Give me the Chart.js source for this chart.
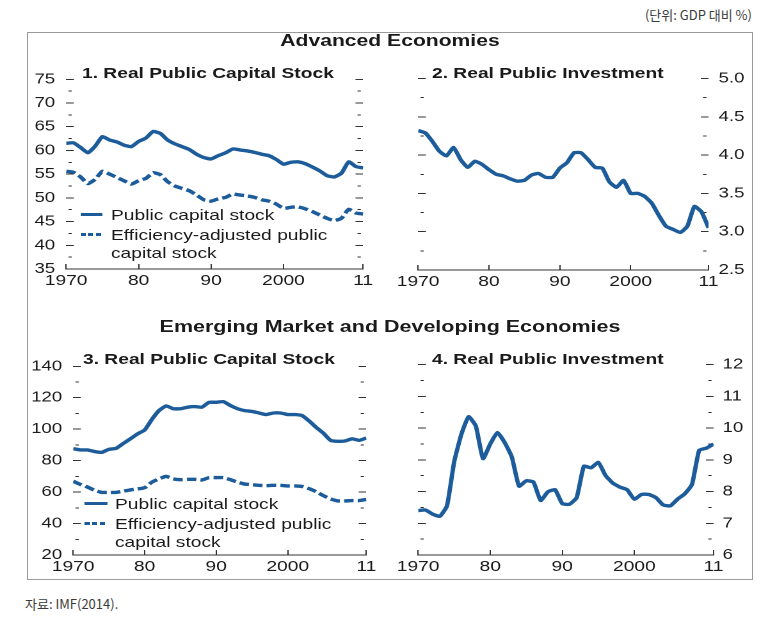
<!DOCTYPE html>
<html>
<head>
<meta charset="utf-8">
<script src="https://cdn.jsdelivr.net/npm/chart.js@4.4.1/dist/chart.umd.min.js"></script>
<style>
html,body{margin:0;padding:0;background:#fff;}
body{width:784px;height:630px;position:relative;overflow:hidden;font-family:"Liberation Sans",Arial,sans-serif;color:#1a1a1a;}
#fig{position:absolute;left:0;top:0;width:620px;height:630px;transform-origin:0 0;}
.t{position:absolute;white-space:nowrap;line-height:1;}
canvas{position:absolute;}
#box{position:absolute;left:27px;top:32px;width:726px;height:548px;border:1.5px solid #9a9a9a;box-sizing:border-box;}
.kr{position:absolute;white-space:nowrap;line-height:1;font-family:"Noto Sans CJK KR","Noto Sans",sans-serif;font-size:13px;color:#3a3a3a;}
</style>
</head>
<body>
<div id="box"></div>
<div class="kr" id="unit" style="right:32px;top:8px;">(단위: GDP 대비 %)</div>
<div class="kr" id="src" style="left:25px;top:597px;">자료: IMF(2014).</div>
<div id="fig">
  <canvas id="c1"></canvas>
  <canvas id="c2"></canvas>
  <canvas id="c3"></canvas>
  <canvas id="c4"></canvas>
</div>
<script>
// ---------- data ----------
const years = [1970,1971,1972,1973,1974,1975,1976,1977,1978,1979,
               1980,1981,1982,1983,1984,1985,1986,1987,1988,1989,
               1990,1991,1992,1993,1994,1995,1996,1997,1998,1999,
               2000,2001,2002,2003,2004,2005,2006,2007,2008,2009,
               2010,2011];
const xTickValues = [1970,1980,1990,2000,2011];
const xTickLabels = ['1970','80','90','2000','11'];

const advStock    = [61.5,61.6,60.6,59.5,60.9,62.9,62.2,61.8,61.1,60.8,
                     61.9,62.6,64.0,63.6,62.2,61.4,60.8,60.2,59.2,58.5,
                     58.2,58.9,59.5,60.3,60.1,59.9,59.6,59.2,58.9,58.1,
                     57.1,57.5,57.6,57.2,56.5,55.7,54.7,54.4,55.2,57.6,
                     56.6,56.3];
const advStockEff = [55.6,55.4,54.4,53.0,53.9,55.6,55.0,54.3,53.6,52.9,
                     53.6,54.1,55.3,54.9,53.4,52.5,52.0,51.5,50.6,49.6,
                     49.3,49.8,50.1,50.8,50.6,50.4,50.1,49.6,49.3,48.7,
                     47.8,48.0,48.1,47.7,47.1,46.4,45.7,45.2,45.7,47.6,
                     46.8,46.6];
const advInvest   = [4.32,4.29,4.18,4.05,3.99,4.10,3.94,3.84,3.92,3.88,
                     3.81,3.75,3.73,3.69,3.66,3.67,3.74,3.76,3.71,3.71,
                     3.83,3.90,4.03,4.03,3.94,3.84,3.83,3.65,3.58,3.67,
                     3.50,3.50,3.46,3.37,3.21,3.07,3.03,2.99,3.07,3.33,
                     3.26,3.05];
const emdStock    = [87.6,86.8,86.8,85.8,85.3,87.2,87.8,90.9,93.9,97.0,
                     99.5,106.2,111.8,114.8,113.0,113.0,114.0,114.4,114.0,117.1,
                     117.1,117.5,115.0,113.0,111.8,111.3,110.3,109.3,110.3,110.3,
                     109.3,109.3,108.7,105.2,101.1,97.4,92.9,92.3,92.5,93.9,
                     92.9,94.4];
const emdStockEff = [66.9,64.9,63.2,61.2,59.8,59.8,59.8,60.6,61.4,62.0,
                     62.8,66.3,68.4,70.0,68.4,67.9,68.1,68.1,67.7,69.2,
                     69.2,69.2,67.9,66.3,65.1,64.7,64.3,64.1,64.3,64.3,
                     63.9,63.9,63.6,62.2,60.2,57.7,55.7,54.4,54.4,54.6,
                     54.6,55.3];
const emdInvest   = [7.40,7.42,7.29,7.22,7.55,8.94,9.81,10.36,10.07,9.04,
                     9.50,9.86,9.55,9.09,8.17,8.34,8.30,7.72,7.99,8.06,
                     7.62,7.60,7.81,8.80,8.75,8.92,8.51,8.27,8.14,8.06,
                     7.76,7.91,7.91,7.81,7.58,7.55,7.76,7.93,8.22,9.30,
                     9.37,9.50];

const yTicksAdvStock  = [35,40,45,50,55,60,65,70,75];
const yTicksAdvInvest = [2.5,3.0,3.5,4.0,4.5,5.0];
const yTicksEmdStock  = [20,40,60,80,100,120,140];
const yTicksEmdInvest = [6,7,8,9,10,11,12];

const sectionTitles = ['Advanced Economies','Emerging Market and Developing Economies'];
const panelTitles = ['1. Real Public Capital Stock','2. Real Public Investment','3. Real Public Capital Stock','4. Real Public Investment'];
const legendLabels = ['Public capital stock','Efficiency-adjusted public','capital stock'];

// ---------- styling ----------
const S = 1.28;               // horizontal stretch of the original figure
const BLUE = '#1d5c9a';
const INK = '#1a1a1a';
const TL = 6;                 // tick mark length (unscaled)
const fig = document.getElementById('fig');
fig.style.transform = 'scaleX(' + S + ')';

function txt(str, x, cy, size, bold, align) {
  const d = document.createElement('div');
  d.className = 't';
  d.textContent = str;
  d.style.fontSize = size + 'px';
  d.style.fontWeight = bold ? '700' : '400';
  d.style.top = (cy - size / 2) + 'px';
  if (align === 'center') {
    d.style.left = (x / S - 300) + 'px';
    d.style.width = '600px';
    d.style.textAlign = 'center';
  } else {
    d.style.left = (x / S) + 'px';
  }
  fig.appendChild(d);
}
function sample(x, cy, w, dashed) {
  const d = document.createElement('div');
  d.style.position = 'absolute';
  d.style.left = (x / S) + 'px';
  d.style.width = (w / S) + 'px';
  d.style.top = (cy - 1.5) + 'px';
  d.style.height = '3px';
  d.style.background = dashed
    ? 'repeating-linear-gradient(to right,' + BLUE + ' 0 4px, transparent 4px 6px)'
    : BLUE;
  fig.appendChild(d);
}

function isMajor(v, ticks) {
  const st = ticks[1] - ticks[0];
  const k = (v - ticks[0]) / st;
  return Math.abs(k - Math.round(k)) < 1e-6;
}

function makePanel(id, p) {
  const cv = document.getElementById(id);
  const [x0, y0, x1, y1] = p.canvas;       // screen coords
  const [ax0, ay0, ax1, ay1] = p.area;     // screen coords of the plot area
  const cw = Math.round((x1 - x0) / S);
  const ch = Math.round(y1 - y0);
  cv.width = cw; cv.height = ch;
  cv.style.left = (x0 / S) + 'px';
  cv.style.top = y0 + 'px';
  const leftW = (ax0 - x0) / S;
  const areaW = (ax1 - ax0) / S;
  const rightW = cw - leftW - areaW;
  const topPad = ay0 - y0;
  const bottomH = ch - topPad - (ay1 - ay0);

  const yt = p.yTicks;
  const half = (yt[1] - yt[0]) / 2;
  const allY = [];
  yt.forEach((v, i) => { allY.push(v); if (i < yt.length - 1) allY.push(v + half); });

  function yAxis(pos, labels, width, gap) {
    return {
      type: 'linear', position: pos,
      min: yt[0], max: yt[yt.length - 1],
      afterBuildTicks: sc => { sc.ticks = allY.map(v => ({ value: v })); },
      ticks: {
        autoSkip: false, padding: TL + gap, color: INK,
        font: { family: '"Liberation Sans", Arial, sans-serif', size: 14.5 },
        callback: v => (labels && isMajor(v, yt)) ? v.toFixed(p.dec) : ''
      },
      grid: {
        display: true, drawOnChartArea: false, drawTicks: true,
        tickLength: -TL, tickWidth: 1, tickColor: '#333',
        tickBorderDash: ctx => (ctx.tick && isMajor(ctx.tick.value, yt)) ? [] : [0, 1.6, 2.6, 40]
      },
      border: { display: false },
      afterFit: sc => { sc.width = width; }
    };
  }

  const datasets = p.series.map(s => ({
    data: years.map((yr, i) => ({ x: yr, y: s.values[i] })),
    yAxisID: 'yL', xAxisID: 'x',
    borderColor: BLUE, borderWidth: 3.4, pointRadius: 0, tension: 0.15,
    borderDash: s.dashed ? [7.5, 3.2] : [], borderCapStyle: 'butt', borderJoinStyle: 'round',
    fill: false
  }));

  new Chart(cv, {
    type: 'line',
    data: { datasets },
    options: {
      responsive: false, animation: false, devicePixelRatio: 2,
      layout: { padding: { top: topPad, left: 0, right: 0, bottom: 0 } },
      plugins: { legend: { display: false }, tooltip: { enabled: false } },
      scales: {
        x: {
          type: 'linear', position: 'bottom', min: 1970, max: 2011,
          afterBuildTicks: sc => { sc.ticks = xTickValues.map(v => ({ value: v })); },
          ticks: {
            autoSkip: false, maxRotation: 0, padding: 8, color: INK,
            font: { family: '"Liberation Sans", Arial, sans-serif', size: 15 },
            callback: v => xTickLabels[xTickValues.indexOf(v)]
          },
          grid: { drawOnChartArea: false, drawTicks: true, tickLength: -5, tickWidth: 1, tickColor: '#333' },
          border: { display: true, color: '#333', width: 1 },
          afterFit: sc => { sc.height = bottomH; }
        },
        yL: yAxis('left', p.labelSide === 'left', leftW, p.gap / S),
        yR: yAxis('right', p.labelSide === 'right', rightW, p.gap / S)
      }
    }
  });
}

makePanel('c1', {
  canvas: [28, 56, 386, 300], area: [66, 73, 363, 269],
  yTicks: yTicksAdvStock, dec: 0, labelSide: 'left', gap: 11,
  series: [{ values: advStock }, { values: advStockEff, dashed: true }]
});
makePanel('c2', {
  canvas: [386, 56, 751, 300], area: [411, 73, 708, 270],
  yTicks: yTicksAdvInvest, dec: 1, labelSide: 'right', gap: 10,
  series: [{ values: advInvest }]
});
makePanel('c3', {
  canvas: [28, 343, 386, 588], area: [73, 360, 367, 555],
  yTicks: yTicksEmdStock, dec: 0, labelSide: 'left', gap: 11,
  series: [{ values: emdStock }, { values: emdStockEff, dashed: true }]
});
makePanel('c4', {
  canvas: [386, 343, 751, 588], area: [411, 361, 713, 555],
  yTicks: yTicksEmdInvest, dec: 0, labelSide: 'right', gap: 9,
  series: [{ values: emdInvest }]
});

// titles
txt(sectionTitles[0], 390, 40, 16.5, true, 'center');
txt(sectionTitles[1], 390, 327, 16.8, true, 'center');
txt(panelTitles[0], 82, 72, 15, true);
txt(panelTitles[1], 432, 72, 15, true);
txt(panelTitles[2], 83, 358, 15, true);
txt(panelTitles[3], 432, 358, 15, true);

// legends
sample(81, 214, 21, false); txt(legendLabels[0], 111, 214, 15, false);
sample(81, 234, 21, true);  txt(legendLabels[1], 111, 234, 15, false);
txt(legendLabels[2], 111, 252, 15, false);
sample(84, 503, 24, false); txt(legendLabels[0], 115, 503, 15, false);
sample(84, 523, 24, true);  txt(legendLabels[1], 115, 523, 15, false);
txt(legendLabels[2], 115, 541, 15, false);
</script>
</body>
</html>
